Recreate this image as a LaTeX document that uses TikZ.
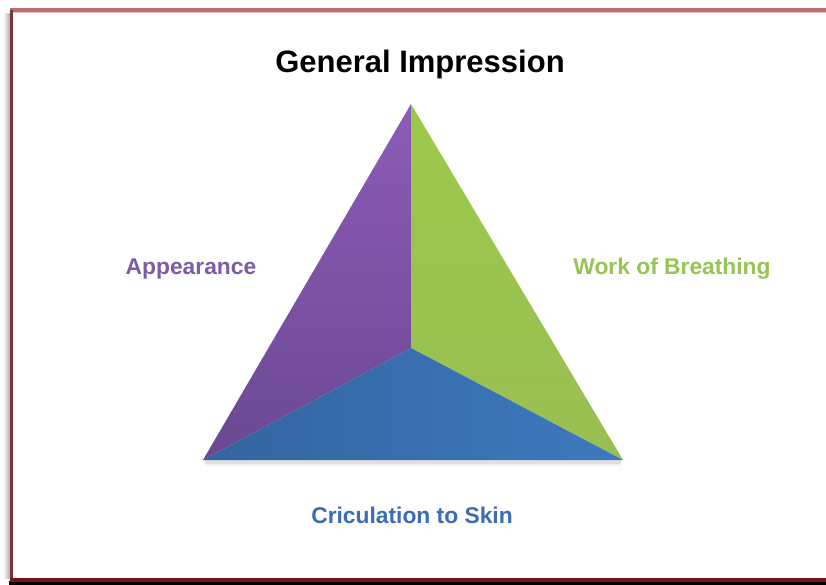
\documentclass[tikz,border=0pt]{standalone}
\usepackage{fontspec}
\setmainfont{Liberation Sans}
\begin{document}
\begin{tikzpicture}[x=1pt,y=-1pt,
  lbl/.style={font=\fontsize{22.8}{26}\selectfont\bfseries, anchor=base, inner sep=0pt},
  ttl/.style={font=\fontsize{31}{34}\selectfont\bfseries, anchor=base, inner sep=0pt, text=black}]
\definecolor{purpT}{HTML}{8C5CB8}
\definecolor{purpB}{HTML}{6B4892}
\definecolor{greenT}{HTML}{9CC94B}
\definecolor{greenB}{HTML}{99BF52}
\definecolor{blueL}{HTML}{33649F}
\definecolor{blueR}{HTML}{3E79BF}
\definecolor{txtpurp}{HTML}{7B5CA8}
\definecolor{txtgreen}{HTML}{98C455}
\definecolor{txtblue}{HTML}{3C6DB0}
\definecolor{frameTop}{HTML}{C06A6C}
\definecolor{frameLeft}{HTML}{7E3436}
\definecolor{frameBot}{HTML}{6E1618}
\useasboundingbox (0,0) rectangle (826,585);
\fill[white] (0,0) rectangle (826,585);
% frame shadow and border
\shade[left color=white, right color=black!30] (3,14) rectangle (9.5,578);
\fill[black] (9,581) rectangle (826,585);
\fill[frameTop!40] (12,11.5) rectangle (826,13);
\fill[frameTop] (9.5,8.3) rectangle (826,11.7);
\fill[frameLeft] (9.5,10) rectangle (12.7,581);
\fill[frameBot] (9.5,577.5) rectangle (826,581.5);
% triangle
\coordinate (apex) at (411,104);
\coordinate (ctr) at (411,348);
\coordinate (bl) at (203,460);
\coordinate (br) at (623,460);
\fill[black!12] (205,460) rectangle (621,464);
\fill[black!6] (205,464) rectangle (621,466);
\shade[top color=purpT, bottom color=purpB] (apex) -- (ctr) -- (bl) -- cycle;
\shade[top color=greenT, bottom color=greenB] (apex) -- (br) -- (ctr) -- cycle;
\shade[left color=blueL, right color=blueR] (bl) -- (ctr) -- (br) -- cycle;
% labels
\node[ttl] (title) at (420,73) {General Impression};
\node[lbl, text=txtpurp] (app) at (191,274) {Appearance};
\node[lbl, text=txtgreen] (wob) at (672,274) {Work of Breathing};
\node[lbl, text=txtblue] (circ) at (412,523) {Criculation to Skin};
\end{tikzpicture}
\end{document}
